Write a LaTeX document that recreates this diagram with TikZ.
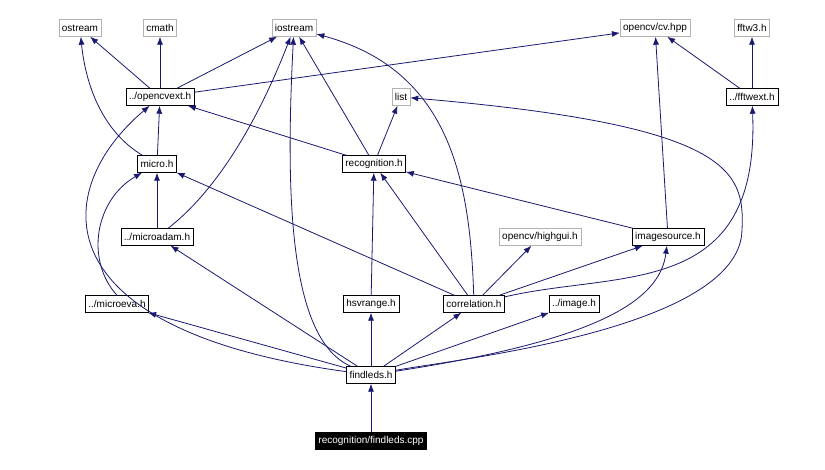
\documentclass[tikz,border=0pt]{standalone}
\usepackage{fontspec}
\setmainfont{Liberation Sans}
\usetikzlibrary{arrows.meta}
\definecolor{incblue}{RGB}{25,25,112}
\tikzset{
  hdr/.style={draw=black, fill=white, inner sep=3pt, minimum height=17pt, font=\fontsize{10}{11}\selectfont},
  ext/.style={hdr, draw=gray!60},
  src/.style={hdr, fill=black, text=white},
  inc/.style={-{Latex[length=8pt,width=6pt]}, draw=incblue, line width=0.8pt}
}
\begin{document}
\begin{tikzpicture}[x=1pt,y=-1pt]
  \useasboundingbox (0,0) rectangle (825,470);
  % system / external headers
  \node[ext] (ostream) at (80,28) {ostream};
  \node[ext] (cmath) at (160,28) {cmath};
  \node[ext] (iostream) at (294,28) {iostream};
  \node[ext] (cvhpp) at (655,28) {opencv/cv.hpp};
  \node[ext] (fftw) at (752,28) {fftw3.h};
  \node[ext] (list) at (401,97) {list};
  \node[ext] (highgui) at (540,237) {opencv/highgui.h};
  % project headers
  \node[hdr] (opencvext) at (160,97) {../opencvext.h};
  \node[hdr] (fftwext) at (752,97) {../fftwext.h};
  \node[hdr] (micro) at (157,164) {micro.h};
  \node[hdr] (recog) at (374,164) {recognition.h};
  \node[hdr] (microadam) at (157,237) {../microadam.h};
  \node[hdr] (imgsrc) at (668,237) {imagesource.h};
  \node[hdr] (microeva) at (117,304) {../microeva.h};
  \node[hdr] (hsv) at (371,304) {hsvrange.h};
  \node[hdr] (corr) at (474,304) {correlation.h};
  \node[hdr] (image) at (574,304) {../image.h};
  \node[hdr] (findleds) at (371,375) {findleds.h};
  \node[src] (cpp) at (371,441) {recognition/findleds.cpp};

  \draw[inc] (cpp) -- (findleds);
  \draw[inc] (findleds) -- (microeva);
  \draw[inc] (findleds) -- (microadam);
  \draw[inc] (findleds) -- (hsv);
  \draw[inc] (findleds) -- (corr);
  \draw[inc] (findleds) -- (image);
  \draw[inc] (findleds) .. controls (600,340) and (660,300) .. (imgsrc);
  \draw[inc] (findleds) .. controls (290,340) and (285,200) .. (iostream);
  \draw[inc] (findleds) .. controls (40,330) and (50,190) .. (opencvext);
  \draw[inc] (findleds) .. controls (450,360) and (740,330) .. (742,230)
    .. controls (745,170) and (730,125) .. (list);
  \draw[inc] (microeva.north) .. controls (85,260) and (95,200) .. (micro);
  \draw[inc] (microadam) -- (micro);
  \draw[inc] (microadam) .. controls (230,180) and (270,90) .. (iostream);
  \draw[inc] (micro) .. controls (100,130) and (85,80) .. (ostream);
  \draw[inc] (micro) -- (opencvext);
  \draw[inc] (opencvext) -- (ostream);
  \draw[inc] (opencvext) -- (cmath);
  \draw[inc] (opencvext) -- (iostream);
  \draw[inc] (opencvext) -- (cvhpp);
  \draw[inc] (recog) -- (opencvext);
  \draw[inc] (recog) -- (list);
  \draw[inc] (recog) -- (iostream);
  \draw[inc] (corr) -- (recog);
  \draw[inc] (corr) -- (micro);
  \draw[inc] (corr) .. controls (470,180) and (450,70) .. (iostream);
  \draw[inc] (corr) -- (highgui);
  \draw[inc] (corr) -- (imgsrc);
  \draw[inc] (corr) .. controls (620,270) and (760,300) .. (fftwext);
  \draw[inc] (hsv) -- (recog);
  \draw[inc] (imgsrc) -- (recog);
  \draw[inc] (imgsrc) -- (cvhpp);
  \draw[inc] (fftwext) -- (fftw);
  \draw[inc] (fftwext) -- (cvhpp);
\end{tikzpicture}
\end{document}
